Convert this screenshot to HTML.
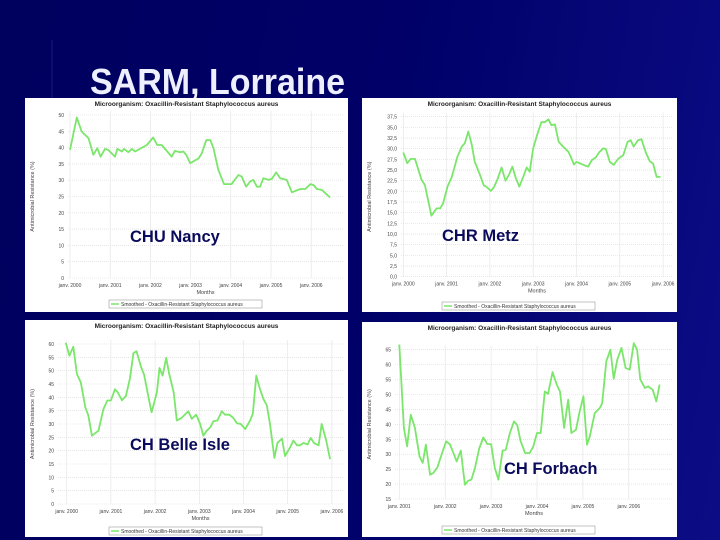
<!DOCTYPE html>
<html><head><meta charset="utf-8">
<style>
html,body{margin:0;padding:0;}
body{width:720px;height:540px;overflow:hidden;background:linear-gradient(100deg,#00005e 0%,#000068 50%,#0c0c86 100%);font-family:"Liberation Sans",sans-serif;}
svg{display:block;}
</style></head>
<body>
<svg id="slide" width="720" height="540" xmlns="http://www.w3.org/2000/svg">
<line x1="52" y1="40" x2="52" y2="98" stroke="#2a2a9a" stroke-width="1" opacity="0.6"/>
<text x="90" y="94" font-size="36" font-weight="bold" fill="#eef0ff" textLength="255" lengthAdjust="spacingAndGlyphs" font-family="Liberation Sans, sans-serif">SARM, Lorraine</text>
<g id="charts"></g>
</svg>
<script>
// ---- CHU Nancy ----
const nancyYears=[2000.00,2000.17,2000.29,2000.46,2000.58,2000.68,2000.76,2000.87,2000.95,2001.12,2001.18,2001.29,2001.34,2001.45,2001.54,2001.62,2001.91,2002.07,2002.17,2002.28,2002.53,2002.61,2002.74,2002.82,2002.89,2002.99,2003.20,2003.28,2003.39,2003.49,2003.57,2003.69,2003.83,2004.02,2004.19,2004.27,2004.38,2004.48,2004.56,2004.65,2004.73,2004.81,2004.94,2005.02,2005.13,2005.23,2005.39,2005.52,2005.73,2005.85,2005.98,2006.06,2006.14,2006.27,2006.35,2006.47];
const nancyValues=[39.3,49.2,44.9,42.9,37.8,39.8,37.2,39.6,39.3,37.2,39.6,38.8,39.6,38.6,39.6,38.8,40.8,43.1,40.8,40.8,37.2,39,38.6,38.8,37.8,35.2,36.7,38.3,42.3,42.3,39.8,33.2,28.8,28.8,31.6,31.1,28,29.6,30.1,28,28,30.6,30.1,30.4,32.4,30.6,30.1,26.3,27.3,27.3,28.8,28.5,27.3,27,26,24.7];
const nancyYTicks=[0,5,10,15,20,25,30,35,40,45,50];
const nancyXTicks=["janv. 2000","janv. 2001","janv. 2002","janv. 2003","janv. 2004","janv. 2005","janv. 2006"];
// ---- CHR Metz ----
const metzYears=[2000,2000.09,2000.17,2000.27,2000.42,2000.5,2000.65,2000.77,2000.85,2000.92,2001.02,2001.12,2001.25,2001.35,2001.42,2001.5,2001.58,2001.65,2001.77,2001.86,2001.92,2002.02,2002.09,2002.17,2002.27,2002.36,2002.44,2002.52,2002.59,2002.68,2002.77,2002.85,2002.92,2003.0,2003.09,2003.19,2003.27,2003.35,2003.42,2003.5,2003.59,2003.69,2003.81,2003.86,2003.94,2004.0,2004.09,2004.21,2004.27,2004.35,2004.45,2004.52,2004.62,2004.68,2004.77,2004.86,2004.96,2005.08,2005.18,2005.25,2005.32,2005.42,2005.5,2005.6,2005.69,2005.77,2005.85,2005.94];
const metzValues=[29.1,26.6,27.6,27.6,22.7,21.5,14.3,16,16,17.2,21.1,23.4,28.1,30.5,31.3,34,31,27,23.9,21.4,21.1,20.1,20.9,22.7,25.6,22.5,23.9,25.8,23.4,21.1,23.4,25.6,24.6,30.1,33.2,36.2,36.2,36.9,35.5,35.7,31.6,30.5,29.3,28.3,26.3,26.9,26.5,26,25.8,27.3,28,29.1,30.1,29.9,26.9,26.2,27.6,28.5,31.6,32,30.5,32,32.2,29.1,27.1,26.5,23.4,23.4];
const metzYTicks=[0,2.5,5,7.5,10,12.5,15,17.5,20,22.5,25,27.5,30,32.5,35,37.5];
const metzXTicks=["janv. 2000","janv. 2001","janv. 2002","janv. 2003","janv. 2004","janv. 2005","janv. 2006"];
// ---- CH Belle Isle ----
const belleYears=[1999.98,2000.06,2000.15,2000.23,2000.32,2000.42,2000.49,2000.57,2000.72,2000.83,2000.92,2001.0,2001.09,2001.15,2001.25,2001.34,2001.43,2001.51,2001.58,2001.68,2001.75,2001.85,2001.92,2002.04,2002.1,2002.17,2002.25,2002.32,2002.42,2002.49,2002.6,2002.75,2002.83,2002.93,2003.02,2003.09,2003.17,2003.25,2003.32,2003.41,2003.51,2003.58,2003.68,2003.77,2003.85,2003.94,2004.04,2004.15,2004.21,2004.29,2004.36,2004.45,2004.53,2004.6,2004.7,2004.77,2004.87,2004.94,2005.04,2005.13,2005.21,2005.28,2005.36,2005.45,2005.52,2005.6,2005.7,2005.77,2005.87,2005.96];
const belleValues=[60.4,55.6,59,48.8,45.6,36.3,33.1,25.6,27.5,35.6,38.8,38.8,43,42,38.9,40.5,47,56.5,57.3,51.5,48.5,40,34.4,41.9,51,48.1,54.8,48.8,41.9,31.3,32.3,34.8,31.9,33.5,30,25.6,27.5,28.8,31,31.3,34.8,33.5,33.5,32.3,30.3,30,28.1,31.3,33.8,48.1,43.8,39.4,36.9,30,17.3,23,24.5,18,20.8,23.8,22,22,22.9,22.3,24.8,22.8,22,30,23.8,16.8];
const belleYTicks=[0,5,10,15,20,25,30,35,40,45,50,55,60];
const belleXTicks=["janv. 2000","janv. 2001","janv. 2002","janv. 2003","janv. 2004","janv. 2005","janv. 2006"];
// ---- CH Forbach ----
const forbachYears=[2001.0,2001.10,2001.17,2001.25,2001.34,2001.44,2001.51,2001.58,2001.67,2001.74,2001.83,2001.92,2002.02,2002.10,2002.16,2002.25,2002.34,2002.43,2002.50,2002.57,2002.65,2002.74,2002.83,2002.92,2003.0,2003.08,2003.16,2003.25,2003.32,2003.41,2003.50,2003.57,2003.64,2003.74,2003.84,2003.92,2004.0,2004.08,2004.17,2004.24,2004.34,2004.43,2004.50,2004.59,2004.68,2004.75,2004.85,2004.93,2005.01,2005.09,2005.15,2005.26,2005.37,2005.42,2005.51,2005.60,2005.67,2005.75,2005.84,2005.93,2006.02,2006.11,2006.18,2006.25,2006.35,2006.42,2006.52,2006.60,2006.67];
const forbachValues=[66.7,38.8,32.6,43.2,38.8,29.3,27.1,33.2,23.1,23.7,25.6,29.8,34.3,33.4,31.2,27.6,31.2,19.8,21.1,21.5,25.4,31.9,35.6,33.4,33.4,25.4,21.5,31.2,31.5,37.1,41,39.7,34.5,30.4,30.4,32.6,37.1,37.1,51,50.2,57.5,53.3,51,38.8,48.3,37.1,38.2,44.4,49.4,33.2,36,43.8,45.5,47.1,61.1,65,55.3,61.7,65.6,58.9,58.3,67.2,65,55,52.2,52.7,51.6,47.7,53.3];
const forbachYTicks=[15,20,25,30,35,40,45,50,55,60,65];
const forbachXTicks=["janv. 2001","janv. 2002","janv. 2003","janv. 2004","janv. 2005","janv. 2006"];

const NS="http://www.w3.org/2000/svg";
const root=document.getElementById('charts');
function mk(tag,attrs,parent){const e=document.createElementNS(NS,tag);for(const k in attrs)e.setAttribute(k,attrs[k]);(parent||root).appendChild(e);return e;}

function drawChart(c){
  const g=mk('g',{});
  
  
  const bg=mk('rect',{x:c.px,y:c.py,width:c.pw,height:c.ph,fill:'#ffffff'},g);
  
  
  const xs=v=>c.x0+(v-c.year0)*c.perYear;
  const ys=v=>c.yBot-(v-c.vMin)/(c.vMax-c.vMin)*(c.yBot-c.yTop);
  const t=mk('text',{x:c.px+c.pw/2,y:c.py+8,'font-size':6.5,'font-weight':'bold','text-anchor':'middle',fill:'#222'},g);
  t.textContent='Microorganism: Oxacillin-Resistant Staphylococcus aureus';
  
  
  c.yTicks.forEach(v=>{
    const y=ys(v);
    const gl=mk('line',{x1:c.plotL,x2:c.plotR,y1:y,y2:y,stroke:'#d8d8d8','stroke-width':0.6,'stroke-dasharray':'1,1'},g);
    
    
    const lb=mk('text',{x:c.plotL-4,y:y+2,'font-size':5,'text-anchor':'end',fill:'#444'},g);
    lb.textContent=(c.comma?v.toFixed(1).replace('.',','):String(v));
    
    
  });
  c.xTicks.forEach((s,i)=>{
    const x=xs(c.year0+i);
    const gl=mk('line',{x1:x,x2:x,y1:c.yTop-4,y2:c.yBot,stroke:'#e2e2e2','stroke-width':0.6},g);
    
    
    const lb=mk('text',{x:x,y:c.yBot+9,'font-size':5,'text-anchor':'middle',fill:'#444'},g);
    lb.textContent=s;
    
    
  });
  const xt=mk('text',{x:(c.plotL+c.plotR)/2,y:c.yBot+16,'font-size':5.5,'text-anchor':'middle',fill:'#444'},g);
  xt.textContent='Months';
  
  
  const yt=mk('text',{x:0,y:0,'font-size':5.5,'text-anchor':'middle',fill:'#444',transform:`translate(${c.px+9},${(c.yTop+c.yBot)/2}) rotate(-90)`},g);
  yt.textContent='Antimicrobial Resistance (%)';
  
  
  const d=c.years.map((yr,i)=>(i?'L':'M')+xs(yr).toFixed(1)+','+ys(c.values[i]).toFixed(1)).join(' ');
  const ln=mk('path',{d:d,fill:'none',stroke:'#7ae66a','stroke-width':1.8,'stroke-linejoin':'round'},g);
  
  
  const lg=mk('g',{},g);
  
  
  mk('rect',{x:c.legX,y:c.legY,width:153,height:8,fill:'#fff',stroke:'#888','stroke-width':0.5},lg);
  mk('line',{x1:c.legX+2,x2:c.legX+10,y1:c.legY+4,y2:c.legY+4,stroke:'#7ae66a','stroke-width':1.5},lg);
  const lt=mk('text',{x:c.legX+12,y:c.legY+6,'font-size':5,fill:'#333'},lg);
  lt.textContent='Smoothed - Oxacillin-Resistant Staphylococcus aureus';
  
  
  const ov=mk('text',{x:c.labX,y:c.labY,'font-size':16.5,'font-weight':'bold',fill:'#0b0b5c'},g);
  ov.textContent=c.label;
  
  
}

drawChart({name:'nancy',label:'CHU Nancy',px:25,py:98,pw:323,ph:214,plotL:68,plotR:343,x0:70,year0:2000,perYear:40.2,yTop:115,yBot:278,vMin:0,vMax:50,years:nancyYears,values:nancyValues,yTicks:nancyYTicks,xTicks:nancyXTicks,comma:false,legX:109,legY:300,labX:130,labY:242});
drawChart({name:'metz',label:'CHR Metz',px:362,py:98,pw:315,ph:214,plotL:401,plotR:673,x0:403.3,year0:2000,perYear:43.3,yTop:116.7,yBot:276.7,vMin:0,vMax:37.5,years:metzYears,values:metzValues,yTicks:metzYTicks,xTicks:metzXTicks,comma:true,legX:442,legY:302,labX:442,labY:241});
drawChart({name:'belle-isle',label:'CH Belle Isle',px:25,py:320,pw:323,ph:217,plotL:58,plotR:343,x0:66.7,year0:2000,perYear:44.2,yTop:344,yBot:504,vMin:0,vMax:60,years:belleYears,values:belleValues,yTicks:belleYTicks,xTicks:belleXTicks,comma:false,legX:109,legY:527,labX:130,labY:450});
drawChart({name:'forbach',label:'CH Forbach',px:362,py:322,pw:315,ph:215,plotL:395,plotR:673,x0:399.3,year0:2001,perYear:45.9,yTop:349.7,yBot:499,vMin:15,vMax:65,years:forbachYears,values:forbachValues,yTicks:forbachYTicks,xTicks:forbachXTicks,comma:false,legX:442,legY:526,labX:504,labY:474});
</script>
</body></html>
